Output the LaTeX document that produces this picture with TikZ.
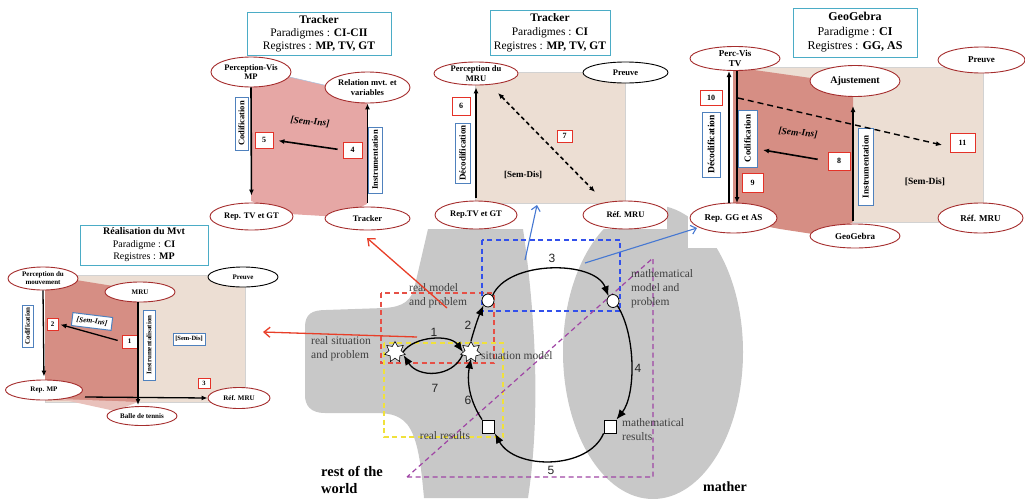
\documentclass[tikz,border=0pt]{standalone}
\usepackage{fontspec}
\setmainfont{Liberation Serif}
\newfontfamily\sansf{Liberation Sans}
\usetikzlibrary{shapes.geometric,arrows.meta}
\definecolor{ellred}{RGB}{165,45,45}
\definecolor{ttlblue}{RGB}{75,172,198}
\definecolor{lblblue}{RGB}{79,129,189}
\definecolor{boxred}{RGB}{228,50,40}
\definecolor{beige}{RGB}{236,222,211}
\definecolor{pinkL}{RGB}{230,167,165}
\definecolor{pinkD}{RGB}{214,142,132}
\definecolor{blobgray}{RGB}{200,200,200}
\definecolor{arrred}{RGB}{232,62,40}
\definecolor{arrblue}{RGB}{70,120,210}
\definecolor{dred}{RGB}{230,80,70}
\definecolor{dyel}{RGB}{240,225,60}
\definecolor{dblue}{RGB}{50,80,235}
\definecolor{dpur}{RGB}{160,70,165}
\newcommand{\fs}[1]{\fontsize{#1}{#1}\selectfont}
\begin{document}
\begin{tikzpicture}[x=1pt,y=-1pt,
 ell/.style={ellipse, draw=ellred, line width=0.9pt, fill=white, inner sep=0pt, align=center},
 ellk/.style={ell, draw=black},
 sz/.style 2 args={minimum width=#1, minimum height=#2},
 ttl/.style={draw=ttlblue, line width=1pt, fill=white, align=center, inner sep=1pt},
 nb/.style={draw=boxred, line width=1pt, fill=white, inner sep=0pt, font=\bfseries\fs{8}},
 lb/.style={draw=lblblue, line width=1pt, fill=white, inner sep=0pt, rotate=90},
 blk/.style={line width=1.6pt, -{Latex[length=6pt,width=5pt]}},
 cyc/.style={line width=1.3pt, -{Latex[length=10pt,width=8pt]}},
 num/.style={font=\sansf\fs{12}, text=black!85},
 ctxt/.style={font=\fontsize{11.5}{14}\selectfont, text=black!75, align=left, inner sep=0pt},
 rarr/.style={draw=arrred, line width=1.3pt, -{Straight Barb[length=6pt,width=10pt]}},
 barr/.style={draw=arrblue, line width=1.1pt, -{Straight Barb[length=5pt,width=9pt]}},
 dsh/.style={line width=1.2pt, dash pattern=on 5pt off 3.5pt},
]
\useasboundingbox (0,0) rectangle (1025,498);
% ---------- grey backgrounds of the modelling cycle
\fill[blobgray] (428,229) -- (523,229) .. controls (532,290) and (543,400) .. (528,498)
  -- (424,498) .. controls (421,465) and (418,438) .. (407,424)
  .. controls (398,414) and (388,413) .. (372,413) -- (325,413)
  .. controls (310,413) and (305,405) .. (305,395) -- (305,327)
  .. controls (305,314) and (312,310) .. (326,310) -- (384,308)
  .. controls (404,307) and (412,300) .. (415,285) -- cycle;
\fill[blobgray] (653,352) ellipse [x radius=90, y radius=147];
\fill[white] (428,0) rectangle (667,229);
\fill[white] (688,0) rectangle (1025,248);

% ---------- panel top-left : Tracker CI-CII
\node[ttl, sz={144}{43}, font=\fontsize{11.5}{13}\selectfont] (tlt) at (319,33.5)
  {\textbf{Tracker}\\Paradigmes : \textbf{CI-CII}\\Registres : \textbf{MP, TV, GT}};
\fill[pinkL] (251,68) -- (367,95) -- (367,204) -- (340,217) -- (290,214) -- (251,201) -- cycle;
\draw[lblblue!50, line width=0.5pt] (251,68) -- (367,95);
\begin{scope}[every node/.append style={font=\bfseries\fontsize{8.5}{9.5}\selectfont}]
\node[ell, sz={80}{30}] (tlpv) at (251,72) {Perception-Vis\\MP};
\node[ell, sz={85}{31}] (tlrel) at (367.5,87.5) {Relation mvt. et\\variables};
\node[ell, sz={83}{27}] (tlrep) at (251.5,216.5) {Rep. TV et GT};
\node[ell, sz={85}{23}] (tltrk) at (367.5,218.5) {Tracker};
\end{scope}
\node[lb, sz={53}{13}, font=\bfseries\fs{8.5}] (tlcod) at (241.5,123.5) {Codification};
\node[lb, sz={66}{14}, font=\bfseries\fs{8.5}] (tlins) at (375,160) {Instrumentation};
\node[nb, sz={18}{16}] (tlb5) at (264,140) {5};
\node[nb, sz={19}{16}] (tlb4) at (352.5,150) {4};
\node[font=\bfseries\itshape\fs{9.5}, rotate=-5] (tlsi) at (310,122) {[Sem-Ins]};
\draw[blk, shorten >=7pt] (tlpv.south) -- (tlrep.north);
\draw[blk, shorten <=4pt] (tltrk.north) -- (tlrel.south);
\draw[blk, shorten <=5pt, shorten >=5pt] (tlb4.west) -- (tlb5.east);

% ---------- panel top-middle : Tracker CI
\node[ttl, sz={120}{45}, font=\fontsize{11.5}{14}\selectfont] (tmt) at (550,32.5)
  {\textbf{Tracker}\\Paradigmes : \textbf{CI}\\Registres : \textbf{MP, TV, GT}};
\filldraw[fill=beige, draw=gray!35, line width=0.6pt] (475,72) rectangle (625,203);
\begin{scope}[every node/.append style={font=\bfseries\fontsize{8.5}{9.5}\selectfont}]
\node[ell, sz={84}{23}] (tmpm) at (476,73.5) {Perception du\\MRU};
\node[ellk, sz={85}{21}] (tmpr) at (625.5,72.5) {Preuve};
\node[ell, sz={82}{28}] (tmrep) at (476,215) {Rep.TV et GT};
\node[ell, sz={85}{28}] (tmref) at (625.5,215) {Réf. MRU};
\end{scope}
\node[nb, sz={18}{18}] (tmb6) at (461,106) {6};
\node[lb, sz={60}{15}, font=\bfseries\fs{9}] (tmdec) at (462.5,153) {Décodification};
\node[nb, sz={15}{12}] (tmb7) at (564.5,136) {7};
\node[font=\bfseries\fs{9}] (tmsd) at (523,175) {[Sem-Dis]};
\draw[blk, shorten <=3pt, shorten >=2pt] (tmrep.north) -- (tmpm.south);
\coordinate (tmd1) at (498,93);
\coordinate (tmd2) at (595,192);
\draw[line width=1.6pt, dash pattern=on 4pt off 3pt, {Latex[length=6pt,width=5pt]}-{Latex[length=6pt,width=5pt]}] (tmd1) -- (tmd2);

% ---------- panel top-right : GeoGebra
\node[ttl, sz={124}{49}, font=\fontsize{12}{14.5}\selectfont] (trt) at (855,32.5)
  {\textbf{GeoGebra}\\Paradigme : \textbf{CI}\\Registres : \textbf{GG, AS}};
\filldraw[fill=beige, draw=gray!35, line width=0.6pt] (733,67) rectangle (983,222);
\fill[pinkD] (733,67) -- (853,84) -- (853,222) -- (826,236) -- (780,229) -- (733,220) -- cycle;
\begin{scope}[every node/.append style={font=\bfseries\fontsize{9}{10}\selectfont}]
\node[ell, sz={90}{24}] (trpv) at (735,58.5) {Perc-Vis\\TV};
\node[ell, sz={87}{26}] (trpr) at (981.5,60) {Preuve};
\node[ell, sz={90}{31}, font=\bfseries\fs{10}] (traj) at (855,81) {Ajustement};
\node[ell, sz={87}{30}] (trrep) at (733.5,218) {Rep. GG et AS};
\node[ell, sz={85}{30}] (trref) at (980.5,218) {Réf. MRU};
\node[ell, sz={90}{24}] (trgg) at (855,236) {GeoGebra};
\end{scope}
\coordinate (tru0) at (729,203);
\coordinate (tru1) at (729,71);
\coordinate (trd0) at (737,71);
\coordinate (trd1) at (737,203);
\draw[blk] (tru0) -- (tru1);
\draw[blk] (trd0) -- (trd1);
\node[nb, sz={22}{15}] (trb10) at (711,97.5) {10};
\node[lb, sz={65}{18}, font=\bfseries\fs{9.5}] (trdec) at (711,144.5) {Décodification};
\node[lb, sz={57}{19}, font=\bfseries\fs{9}] (trcod) at (747.5,138.5) {Codification};
\node[nb, sz={21}{19}] (trb9) at (752.5,182.5) {9};
\node[nb, sz={22}{18}] (trb8) at (839,161) {8};
\node[lb, sz={77}{15}, font=\bfseries\fs{9}] (trins) at (865.5,166.5) {Instrumentation};
\node[nb, sz={25}{19}] (trb11) at (962.5,142.5) {11};
\node[font=\bfseries\itshape\fs{9.5}, rotate=-5] (trsi) at (798,133) {[Sem-Ins]};
\node[font=\bfseries\fs{9.5}] (trsd) at (925,182) {[Sem-Dis]};
\coordinate (trcodr) at (763,150);
\draw[blk, shorten <=10pt] (trb8.west) -- (trcodr);
\coordinate (trin0) at (853,221);
\coordinate (trin1) at (853,106);
\draw[blk] (trin0) -- (trin1);
\coordinate (trda) at (738,98);
\coordinate (trdb) at (942,145);
\draw[line width=1.4pt, dash pattern=on 6pt off 4pt, -{Latex[length=6pt,width=5pt]}] (trda) -- (trdb);

% ---------- panel left : Realisation du Mvt
\node[ttl, sz={128}{40}, font=\fontsize{10}{12.5}\selectfont] (lt) at (144,245)
  {\textbf{Réalisation du Mvt}\\Paradigme : \textbf{CI}\\Registres : \textbf{MP}};
\filldraw[fill=beige, draw=gray!35, line width=0.6pt] (45,275) rectangle (245,402);
\fill[pinkD] (45,275) -- (138,290) -- (138,402) -- (45,400) -- cycle;
\fill[pinkD!55] (60,399) -- (138,402) -- (115,411) -- cycle;
\begin{scope}[every node/.append style={font=\bfseries\fontsize{7}{8}\selectfont}]
\node[ell, sz={70}{23}] (lpm) at (43,278.5) {Perception du\\mouvement};
\node[ellk, sz={70}{20}] (lpr) at (243,277) {Preuve};
\node[ell, sz={70}{20}] (lmru) at (140,292) {MRU};
\node[ell, sz={77}{20}] (lrep) at (44,390) {Rep. MP};
\node[ell, sz={62}{21}] (lref) at (239,398) {Réf. MRU};
\node[ell, sz={70}{19}] (lbt) at (142,416) {Balle de tennis};
\end{scope}
\node[lb, sz={42}{11}, font=\bfseries\fs{7}] (lcod) at (27.5,326) {Codification};
\node[nb, sz={11}{12}, font=\bfseries\fs{7}] (lb2) at (52.5,324) {2};
\node[draw=lblblue, line width=1pt, fill=white, inner sep=0pt, sz={40}{13}, rotate=-7, font=\bfseries\itshape\fs{7.5}] (lsi) at (92,321.5) {[Sem-Ins]};
\node[nb, sz={15}{13}, font=\bfseries\fs{7}] (lb1) at (129.5,341.5) {1};
\node[lb, sz={70}{12}, font=\bfseries\fs{7}] (lins) at (149,345) {Instrumentalisation};
\node[draw=lblblue, line width=1pt, fill=white, inner sep=0pt, sz={32}{12}, font=\bfseries\fs{6.5}] (lsd) at (189,339) {[Sem-Dis]};
\node[nb, sz={12}{10}, font=\bfseries\fs{6.5}] (lb3) at (204,383) {3};
\draw[blk, line width=1.3pt, shorten >=3pt] (lpm.south) -- (lrep.north);
\coordinate (lin0) at (138,302);
\coordinate (lin1) at (138,405);
\draw[blk, line width=1.3pt] (lin0) -- (lin1);
\coordinate (lh0) at (85,397);
\draw[blk, line width=1.3pt] (lh0) -- (lref.west);
\draw[blk, line width=1.3pt, shorten <=4pt, shorten >=2pt] (lb1.west) -- (lb2.east);

% ---------- modelling cycle
\draw[dred, dsh] (381,293) rectangle (494,363);
\draw[dyel, dsh] (384,343) rectangle (503,437);
\draw[dblue, dsh] (482,240) rectangle (620,311);
\draw[dpur, dsh] (407,477) -- (653,477) -- (653,258) -- cycle;

\node[ctxt] (trmp) at (409,296) [anchor=west] {real model\\and problem};
\node[ctxt] (trsp) at (311,349) [anchor=west] {real situation\\and problem};
\node[ctxt] (tsm) at (481,356) [anchor=west] {situation model};
\node[ctxt] (trr) at (445,436) {real results};
\node[ctxt] (tmmp) at (631,289) [anchor=west] {mathematical\\model and\\problem};
\node[ctxt] (tmr) at (622,430) [anchor=west] {mathematical\\results};
\node[font=\bfseries\fontsize{14.5}{17.5}\selectfont, align=left, inner sep=0pt] (trw) at (321,480) [anchor=west] {rest of the\\world};
\node[font=\bfseries\fs{14}, inner sep=0pt] (tmw) at (725,487) {mather};

\node[draw, fill=white, ellipse, sz={12}{13}, inner sep=0pt, line width=0.8pt] (c1) at (488,300.5) {};
\node[draw, fill=white, ellipse, sz={12}{13}, inner sep=0pt, line width=0.8pt] (c2) at (613,301) {};
\node[draw, fill=white, sz={12}{13}, inner sep=0pt, line width=0.8pt] (r1) at (610,426.5) {};
\node[draw, fill=white, sz={12}{13}, inner sep=0pt, line width=0.8pt] (r2) at (488.5,426.5) {};
\node[star, star points=7, star point ratio=1.7, draw, fill=white, minimum size=21pt, inner sep=0pt, line width=0.6pt] (s1) at (395,352) {};
\node[star, star points=7, star point ratio=1.7, draw, fill=white, minimum size=21pt, inner sep=0pt, line width=0.6pt] (s2) at (471,352) {};

\draw[cyc] (s1.east) .. controls (414,336) and (450,334) .. (s2.west);
\draw[cyc] (s2.-160) .. controls (452,378) and (418,378) .. (s1.-20);
\draw[cyc] (s2.north) .. controls (474,330) and (478,318) .. (c1.south west);
\draw[cyc] (c1.north east) .. controls (508,260) and (595,260) .. (c2.north west);
\draw[cyc] (c2.south east) .. controls (636,335) and (636,395) .. (r1.north east);
\draw[cyc] (r1.south west) .. controls (588,470) and (515,470) .. (r2.south east);
\draw[cyc] (r2.north west) .. controls (472,405) and (466,385) .. (s2.south);

\node[num] (n1) at (434,332) {1};
\node[num] (n2) at (468,325) {2};
\node[num] (n3) at (552,258) {3};
\node[num] (n4) at (638,368) {4};
\node[num] (n5) at (551,470) {5};
\node[num] (n6) at (468,400) {6};
\node[num] (n7) at (435,388) {7};

% ---------- links to the panels
\coordinate (ra1s) at (447,308);
\coordinate (ra1e) at (367,238);
\draw[rarr] (ra1s) -- (ra1e);
\coordinate (ra2s) at (417,337);
\coordinate (ra2e) at (263,332);
\draw[rarr] (ra2s) -- (ra2e);
\coordinate (ba1s) at (525,260);
\coordinate (ba1e) at (537,205);
\draw[barr] (ba1s) -- (ba1e);
\coordinate (ba2s) at (585,263);
\coordinate (ba2e) at (697,228);
\draw[barr] (ba2s) -- (ba2e);
\end{tikzpicture}
\end{document}
